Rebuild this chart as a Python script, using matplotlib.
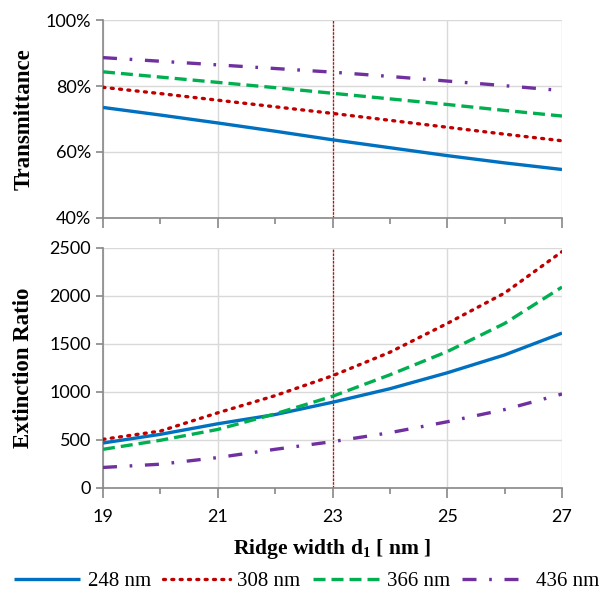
import matplotlib
matplotlib.use("Agg")
import matplotlib.pyplot as plt
from matplotlib.ticker import MultipleLocator, FuncFormatter, FixedLocator

width = [19, 20, 21, 22, 23, 24, 25, 26, 27]
labels = ["248 nm", "308 nm", "366 nm", "436 nm"]
xticks = [19, 21, 23, 25, 27]

trans_248 = [73.5, 71.2, 68.8, 66.3, 63.7, 61.3, 58.9, 56.7, 54.7]
trans_308 = [79.6, 77.7, 75.7, 73.7, 71.7, 69.6, 67.5, 65.4, 63.4]
trans_366 = [84.3, 82.7, 81.1, 79.5, 77.8, 76.1, 74.4, 72.6, 70.9]
trans_436 = [88.6, 87.5, 86.4, 85.3, 84.2, 82.9, 81.5, 80.1, 78.6]

er_248 = [469, 559, 669, 765, 893, 1034, 1200, 1386, 1614]
er_308 = [507, 593, 783, 962, 1169, 1414, 1714, 2031, 2462]
er_366 = [403, 497, 610, 772, 955, 1179, 1421, 1714, 2093]
er_436 = [214, 248, 317, 403, 483, 576, 690, 817, 979]

colors = ["#0070C0", "#C00000", "#00B050", "#7030A0"]
styles = ["-", (0, (0.6, 1.9)), (0, (3.6, 1.8)), (0, (4.2, 3.8, 0.8, 3.8))]
caps = ["butt", "round", "butt", "butt"]

fig = plt.figure(figsize=(6.07, 5.95), dpi=100)
W, H = 607, 595
ax1 = fig.add_axes([103 / W, 1 - 218 / H, (562 - 103) / W, (218 - 20) / H])
ax2 = fig.add_axes([103 / W, 1 - 488 / H, (562 - 103) / W, (488 - 248) / H])

serif = ["Liberation Serif", "DejaVu Serif"]

for ax, series in ((ax1, [trans_248, trans_308, trans_366, trans_436]),
                   (ax2, [er_248, er_308, er_366, er_436])):
    for s, c, ls, cap, lab in zip(series, colors, styles, caps, labels):
        ax.plot(width, s, color=c, linestyle=ls, lw=2.4, label=lab,
                dash_capstyle=cap, solid_capstyle="butt", zorder=3)
    ax.axvline(23, color="#E00000", lw=0.9, ls=(0, (2, 1)), zorder=2)
    ax.set_xlim(19, 27)
    ax.xaxis.set_major_locator(FixedLocator(xticks))
    ax.xaxis.set_minor_locator(FixedLocator(width))
    ax.grid(True, which="major", color="#D9D9D9", lw=1)
    ax.set_axisbelow(True)
    for sp in ("top", "right"):
        ax.spines[sp].set_visible(False)
    for sp in ("left", "bottom"):
        ax.spines[sp].set_color("#888888")
        ax.spines[sp].set_linewidth(1.2)
    ax.tick_params(axis="x", which="major", length=7, color="#888888", width=1.2)
    ax.tick_params(axis="x", which="minor", length=4, color="#888888", width=1.2)
    ax.tick_params(axis="y", length=5, color="#888888", width=1.2)

ax1.set_ylim(40, 100)
ax1.yaxis.set_major_locator(MultipleLocator(20))
ax1.yaxis.set_major_formatter(FuncFormatter(lambda v, p: f"{v:.0f}%"))
ax1.tick_params(axis="x", labelbottom=False)
ax1.set_ylabel("Transmittance", fontfamily=serif, fontweight="bold", fontsize=16.5)

ax2.set_ylim(0, 2500)
ax2.yaxis.set_major_locator(MultipleLocator(500))
ax2.set_ylabel("Extinction Ratio", fontfamily=serif, fontweight="bold", fontsize=16.5)
ax2.set_xlabel("Ridge width d$_\\mathregular{1}$ [ nm ]", fontfamily=serif,
               fontweight="bold", fontsize=15.5, labelpad=9)
ax2.tick_params(axis="x", pad=8)

for ax in (ax1, ax2):
    for t in ax.get_xticklabels() + ax.get_yticklabels():
        t.set_fontfamily("Lato")
        t.set_fontsize(13)

ax1.yaxis.set_label_coords(-0.15, 0.5)
ax2.yaxis.set_label_coords(-0.15, 0.5)

handles, labs = ax2.get_legend_handles_labels()
fig.legend(handles, labs, loc="center", bbox_to_anchor=(0.505, 1 - 581 / H), ncol=4,
           frameon=False, prop={"family": serif, "size": 15},
           handlelength=3.2, handletextpad=0.35, columnspacing=0.6)

fig.savefig("out.png", dpi=100)
